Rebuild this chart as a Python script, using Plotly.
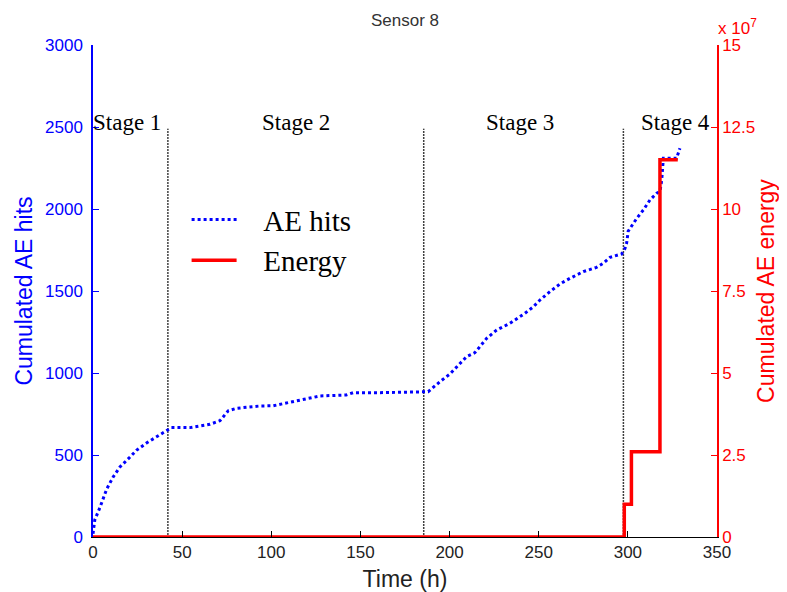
import plotly.graph_objects as go

# ---- data ----
hits_time = [0, 1, 4, 7.7, 11.3, 15.1, 20.8, 24.5, 30, 35.7, 41.7, 44, 54.4, 65.6, 71.2, 75.9,
             80.6, 93.7, 101, 112, 121.7, 127.3, 142, 146, 161, 175, 185.3, 188, 194.6, 200.2,
             209.6, 214.2, 220.8, 226.4, 233.9, 242.3, 247, 250.7, 256.3, 261.9, 267.5, 275,
             282.4, 286.2, 290, 296.5, 298.4, 299.3, 300.2, 305, 308.7, 312.4, 316.2, 318, 319,
             319.3, 319.9, 327.3, 329.2]
hits_value = [20, 104, 183, 293, 366, 427, 488, 530, 573, 610, 652, 667, 667, 687, 709, 770,
              785, 799, 800, 825, 846, 860, 866, 880, 880, 883, 886, 886, 947, 994,
              1100, 1124, 1211, 1262, 1303, 1364, 1404, 1445, 1496, 1543, 1577, 1618,
              1644, 1669, 1705, 1726, 1760, 1791, 1865, 1943, 1994, 2055, 2096, 2106, 2177,
              2258, 2309, 2309, 2370]

energy_time = [0, 298, 302, 318, 328]
energy_value = [0, 1.0e7, 2.6e7, 11.5e7, 11.5e7]

stage_bounds = [42, 185.5, 297.5]
stage_line_bottom = -60
stage_line_top = 2490
stage_labels = ["Stage 1", "Stage 2", "Stage 3", "Stage 4"]
stage_label_x = [19, 114, 239.5, 327]
stage_label_y = 2525

x_ticks = [0, 50, 100, 150, 200, 250, 300, 350]
left_ticks = [0, 500, 1000, 1500, 2000, 2500, 3000]
right_ticks = [0, 2.5e7, 5e7, 7.5e7, 10e7, 12.5e7, 15e7]
right_ticktext = ["0", "2.5", "5", "7.5", "10", "12.5", "15"]

NB = "\u00a0\u00a0\u00a0"

fig = go.Figure()

# stage boundaries
for i, xb in enumerate(stage_bounds):
    fig.add_trace(go.Scatter(
        x=[xb, xb], y=[stage_line_bottom, stage_line_top], mode="lines",
        line=dict(color="black", width=1.5, dash="1.5px,1.5px"),
        showlegend=False, hoverinfo="skip", cliponaxis=False))

fig.add_trace(go.Scatter(
    x=hits_time, y=hits_value, mode="lines", name=NB + "AE hits",
    line=dict(color="#0000ff", width=3, dash="dot")))

fig.add_trace(go.Scatter(
    x=energy_time, y=energy_value, mode="lines", name=NB + "Energy", yaxis="y2",
    line=dict(color="#ff0000", width=3.5, shape="hv")))

for lab, lx in zip(stage_labels, stage_label_x):
    fig.add_annotation(x=lx, y=stage_label_y, xref="x", yref="y", text=lab, showarrow=False,
                       font=dict(family="Liberation Serif", size=23, color="black"),
                       xanchor="center", yanchor="middle")

fig.add_annotation(x=1.0, y=1.0, xref="paper", yref="paper", text="x 10<sup>7</sup>",
                   showarrow=False, xanchor="left", yanchor="bottom", xshift=-1, yshift=5,
                   font=dict(family="Liberation Sans", size=17, color="#ff0000"))

tickfont = dict(family="Liberation Sans", size=17)

fig.update_layout(
    width=779, height=584,
    margin=dict(l=85, r=70, t=37, b=55),
    plot_bgcolor="white", paper_bgcolor="white",
    title=dict(text="Sensor 8", x=(405 - 8) / 779, xanchor="center", y=1 - 12 / 584,
               yanchor="middle",
               font=dict(family="Liberation Sans", size=17, color="#333333")),
    xaxis=dict(range=[0, 350], tickvals=x_ticks, ticks="inside", ticklen=6,
               tickcolor="black", showline=True, linecolor="black", linewidth=1,
               showgrid=False, zeroline=False, automargin=False,
               tickfont=dict(color="#222222", **tickfont),
               title=dict(text="Time (h)", font=dict(family="Liberation Sans", size=23,
                                                        color="#222222"), standoff=10)),
    yaxis=dict(range=[0, 3000], tickvals=left_ticks, ticks="inside", ticklen=6,
               tickcolor="#0000ff", showline=True, linecolor="#0000ff", linewidth=1.5,
               showgrid=False, zeroline=False, automargin=False, ticklabelstandoff=5,
               tickfont=dict(color="#0000ff", **tickfont),
               title=dict(text="Cumulated AE hits", font=dict(family="Liberation Sans",
                                                              size=23, color="#0000ff"),
                          standoff=6)),
    yaxis2=dict(range=[0, 15e7], tickvals=right_ticks, ticktext=right_ticktext,
                overlaying="y", side="right", ticks="inside", ticklen=6,
                tickcolor="#ff0000", showline=True, linecolor="#ff0000", linewidth=1.5,
                showgrid=False, zeroline=False, automargin=False,
                tickfont=dict(color="#ff0000", **tickfont),
                title=dict(text="Cumulated AE energy", font=dict(family="Liberation Sans",
                                                                 size=23, color="#ff0000"),
                           standoff=4)),
    legend=dict(x=0.15, y=0.697, xanchor="left", yanchor="top", bgcolor="rgba(0,0,0,0)",
                font=dict(family="Liberation Serif", size=29, color="black"),
                itemwidth=45, tracegroupgap=0),
)

fig.write_html("out.html")
